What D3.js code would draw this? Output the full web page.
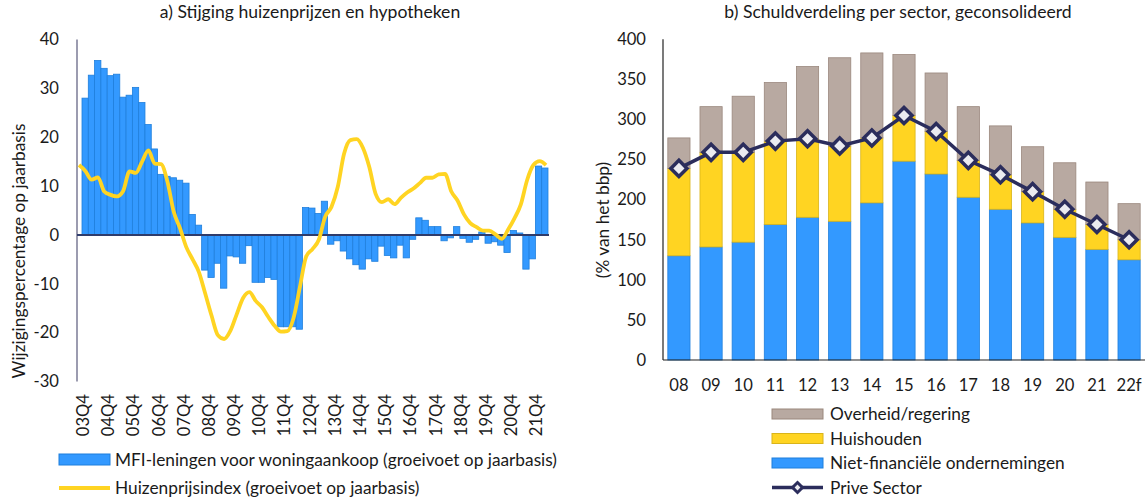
<!DOCTYPE html>
<html>
<head>
<meta charset="utf-8">
<script src="https://cdn.jsdelivr.net/npm/d3@7"></script>
<style>
  body { margin: 0; background: #fff; }
  svg text { font-family: Lato, "Open Sans", sans-serif; fill: #1a1a1a; }
</style>
</head>
<body>
<svg id="chart" width="1147" height="499"></svg>
<script>
// Left panel: quarterly growth of MFI mortgage lending (bars) and house price index (line)
var firstYear = 3
var quarters = []
for (var i = 0; i < 74; i++) {
    var q = (3 + i) % 4 + 1
    var yr = firstYear + Math.floor((3 + i) / 4)
    quarters.push((yr < 10 ? "0" : "") + yr + "Q" + q)
}
var mfiLoans = [28.0, 32.7, 35.7, 34.1, 32.6, 32.9, 28.2, 28.6, 30.2, 27.1,
    22.6, 17.6, 12.4, 12.0, 11.7, 11.2, 10.6, 4.2, 2.0, -7.2,
    -8.7, -5.8, -10.9, -4.3, -4.5, -5.8, -2.2, -9.7, -9.7, -8.7,
    -9.1, -18.8, -18.8, -18.8, -19.3, 5.6, 5.5, 4.4, 6.9, -1.9,
    -1.2, -3.3, -4.9, -6.1, -7.0, -4.9, -5.4, -2.3, -4.2, -4.7,
    -2.1, -4.7, -0.9, 3.5, 3.0, 1.7, 1.7, -1.2, -0.6, 1.7,
    -0.7, -1.5, -0.9, 0.6, -1.7, -1.4, -2.1, -3.6, 0.9, 0.4,
    -7.0, -4.9, 14.1, 13.7]
var housePrices = [14.3, 13.1, 11.3, 11.8, 8.9, 8.2, 7.9, 9.0, 13.0, 12.7,
    15.0, 17.3, 14.6, 14.5, 11.0, 4.8, 1.4, -2.5, -5.0, -7.6,
    -12.0, -16.5, -20.5, -21.3, -19.6, -16.2, -12.9, -11.7, -13.5, -14.8,
    -16.8, -18.6, -19.8, -19.7, -17.0, -10.7, -4.4, -2.9, -1.0, 3.7,
    5.7, 9.8, 16.6, 19.4, 19.6, 17.8, 13.9, 8.4, 6.7, 7.3,
    6.3, 7.6, 8.7, 9.5, 10.6, 11.7, 11.7, 12.4, 12.5, 8.9,
    7.0, 4.2, 2.4, 1.6, 0.9, 0.9, 0.1, -0.8, 1.1, 3.4,
    6.2, 11.2, 14.3, 15.1, 14.3]
var leftTicks = [40, 30, 20, 10, 0, -10, -20, -30]

// Right panel: consolidated debt by sector (% of GDP)
var years = ["08", "09", "10", "11", "12", "13", "14", "15", "16", "17", "18", "19", "20", "21", "22f"]
var nonFinancial = [130, 141, 147, 169, 178, 173, 196, 248, 232, 203, 188, 171, 153, 138, 125]
var households = [109, 118, 112, 104, 98, 94, 81, 57, 53, 46, 43, 39, 35, 31, 25]
var government = [38, 57, 70, 73, 90, 110, 106, 76, 73, 67, 61, 56, 58, 53, 45]
var privateSector = [239, 259, 259, 273, 276, 267, 277, 305, 285, 249, 231, 210, 188, 169, 150]
var rightTicks = [0, 50, 100, 150, 200, 250, 300, 350, 400]

var blue = "#3399ff", blueEdge = "#1f7fdc"
var yellow = "#ffd422", yellowEdge = "#d9b41a"
var grey = "#b8a9a1", greyEdge = "#9a877d"
var navy = "#2b2d5c"
var titleSize = 17.6, textSize = 17.3, tickSize = 16.6

var svg = d3.select("#chart")

// ---------- panel a ----------
var ax = d3.scaleBand().domain(quarters).range([82, 548]).padding(0)
var lineX = d3.scaleLinear().domain([0, housePrices.length - 1]).range([79, 546])
var ay = d3.scaleLinear().domain([-30, 40]).range([381.5, 39.5])

svg.append("text")
    .attr("x", 310).attr("y", 18)
    .attr("text-anchor", "middle")
    .attr("font-size", titleSize)
    .text("a) Stijging huizenprijzen en hypotheken")

svg.append("text")
    .attr("transform", "translate(19,251) rotate(-90)")
    .attr("text-anchor", "middle")
    .attr("dy", "0.35em")
    .attr("font-size", textSize)
    .text("Wijzigingspercentage op jaarbasis")

svg.append("g").selectAll("text")
    .data(leftTicks)
    .enter().append("text")
    .attr("x", 59)
    .attr("y", function(d) { return ay(d) })
    .attr("dy", "0.35em")
    .attr("text-anchor", "end")
    .attr("font-size", tickSize)
    .text(function(d) { return d })

svg.append("line")
    .attr("x1", 77).attr("x2", 77)
    .attr("y1", ay(40)).attr("y2", ay(-30))
    .attr("stroke", "#7b7b96").attr("stroke-width", 1.5)

svg.append("g").selectAll("rect")
    .data(mfiLoans)
    .enter().append("rect")
    .attr("x", function(d, i) { return ax(quarters[i]) })
    .attr("width", ax.bandwidth())
    .attr("y", function(d) { return ay(Math.max(0, d)) })
    .attr("height", function(d) { return Math.abs(ay(d) - ay(0)) })
    .attr("fill", blue)
    .attr("stroke", blueEdge)
    .attr("stroke-width", 0.8)

svg.append("line")
    .attr("x1", 77).attr("x2", 549)
    .attr("y1", ay(0)).attr("y2", ay(0))
    .attr("stroke", "#2f3c6b").attr("stroke-width", 2)

var priceLine = d3.line()
    .x(function(d, i) { return lineX(i) })
    .y(function(d) { return ay(d) })
    .curve(d3.curveMonotoneX)

svg.append("path")
    .datum(housePrices)
    .attr("d", priceLine)
    .attr("fill", "none")
    .attr("stroke", yellow)
    .attr("stroke-width", 3.8)
    .attr("stroke-linejoin", "round")

// only the Q4 quarters get a label
svg.append("g").selectAll("text")
    .data(quarters.filter(function(q) { return q.slice(-2) == "Q4" }))
    .enter().append("text")
    .attr("transform", function(d) {
        return "translate(" + (ax(d) + ax.bandwidth() / 2 - 2) + ",394) rotate(-90)"
    })
    .attr("text-anchor", "end")
    .attr("dy", "0.35em")
    .attr("font-size", tickSize)
    .text(function(d) { return d })

var legA = svg.append("g")
legA.append("rect")
    .attr("x", 59).attr("y", 454).attr("width", 51).attr("height", 11)
    .attr("fill", blue).attr("stroke", blueEdge)
legA.append("text")
    .attr("x", 115).attr("y", 460).attr("dy", "0.35em").attr("font-size", textSize)
    .text("MFI-leningen voor woningaankoop (groeivoet op jaarbasis)")
legA.append("line")
    .attr("x1", 59).attr("x2", 110).attr("y1", 488).attr("y2", 488)
    .attr("stroke", yellow).attr("stroke-width", 3.8)
legA.append("text")
    .attr("x", 115).attr("y", 488).attr("dy", "0.35em").attr("font-size", textSize)
    .text("Huizenprijsindex (groeivoet op jaarbasis)")

// ---------- panel b ----------
var bx = d3.scaleBand().domain(years).range([663, 1145]).paddingInner(0.31).paddingOuter(0.15)
var by = d3.scaleLinear().domain([0, 400]).range([360, 39.3])

var table = years.map(function(y, i) {
    return {year: y, nonfin: nonFinancial[i], house: households[i], gov: government[i]}
})
var stack = d3.stack().keys(["nonfin", "house", "gov"])(table)
var fills = {nonfin: [blue, blueEdge], house: [yellow, yellowEdge], gov: [grey, greyEdge]}

svg.append("text")
    .attr("x", 898).attr("y", 18)
    .attr("text-anchor", "middle")
    .attr("font-size", titleSize)
    .text("b) Schuldverdeling per sector, geconsolideerd")

svg.append("text")
    .attr("transform", "translate(603,220) rotate(-90)")
    .attr("text-anchor", "middle")
    .attr("dy", "0.35em")
    .attr("font-size", textSize)
    .text("(% van het bbp)")

svg.append("g").selectAll("text")
    .data(rightTicks)
    .enter().append("text")
    .attr("x", 646)
    .attr("y", function(d) { return by(d) })
    .attr("dy", "0.35em")
    .attr("text-anchor", "end")
    .attr("font-size", tickSize)
    .text(function(d) { return d })

svg.append("g").selectAll("g")
    .data(stack)
    .enter().append("g")
    .attr("fill", function(s) { return fills[s.key][0] })
    .attr("stroke", function(s) { return fills[s.key][1] })
    .selectAll("rect")
    .data(function(s) { return s })
    .enter().append("rect")
    .attr("x", function(d) { return bx(d.data.year) })
    .attr("width", bx.bandwidth())
    .attr("y", function(d) { return by(d[1]) })
    .attr("height", function(d) { return by(d[0]) - by(d[1]) })
    .attr("stroke-width", 0.8)

svg.append("line")
    .attr("x1", 663).attr("x2", 663).attr("y1", by(400)).attr("y2", by(0))
    .attr("stroke", "#222").attr("stroke-width", 1.2)
svg.append("line")
    .attr("x1", 663).attr("x2", 1145).attr("y1", by(0)).attr("y2", by(0))
    .attr("stroke", "#222").attr("stroke-width", 1.2)

svg.append("g").selectAll("text")
    .data(years)
    .enter().append("text")
    .attr("x", function(d) { return bx(d) + bx.bandwidth() / 2 })
    .attr("y", 385)
    .attr("dy", "0.35em")
    .attr("text-anchor", "middle")
    .attr("font-size", tickSize)
    .text(function(d) { return d })

var privLine = d3.line()
    .x(function(d, i) { return bx(years[i]) + bx.bandwidth() / 2 })
    .y(function(d) { return by(d) })

svg.append("path")
    .datum(privateSector)
    .attr("d", privLine)
    .attr("fill", "none")
    .attr("stroke", navy)
    .attr("stroke-width", 3.5)

var diamond = d3.symbol().type(d3.symbolSquare).size(130)
svg.append("g").selectAll("path")
    .data(privateSector)
    .enter().append("path")
    .attr("d", diamond)
    .attr("transform", function(d, i) {
        return "translate(" + (bx(years[i]) + bx.bandwidth() / 2) + "," + by(d) + ") rotate(45)"
    })
    .attr("fill", "#ebebf0")
    .attr("stroke", navy)
    .attr("stroke-width", 3.5)

var legItems = [
    {label: "Overheid/regering", key: "gov"},
    {label: "Huishouden", key: "house"},
    {label: "Niet-financiële ondernemingen", key: "nonfin"}
]
var legB = svg.append("g")
legB.selectAll("rect")
    .data(legItems)
    .enter().append("rect")
    .attr("x", 772).attr("width", 51).attr("height", 10)
    .attr("y", function(d, i) { return 409 + i * 24.5 })
    .attr("fill", function(d) { return fills[d.key][0] })
    .attr("stroke", function(d) { return fills[d.key][1] })
legB.selectAll("text")
    .data(legItems.concat([{label: "Prive Sector"}]))
    .enter().append("text")
    .attr("x", 830)
    .attr("y", function(d, i) { return 414 + i * 24.5 })
    .attr("dy", "0.35em")
    .attr("font-size", textSize)
    .text(function(d) { return d.label })
legB.append("line")
    .attr("x1", 772).attr("x2", 823).attr("y1", 487.5).attr("y2", 487.5)
    .attr("stroke", navy).attr("stroke-width", 3.5)
legB.append("path")
    .attr("d", d3.symbol().type(d3.symbolSquare).size(50))
    .attr("transform", "translate(797.5,487.5) rotate(45)")
    .attr("fill", "#ebebf0")
    .attr("stroke", navy)
    .attr("stroke-width", 3)
</script>
</body>
</html>
